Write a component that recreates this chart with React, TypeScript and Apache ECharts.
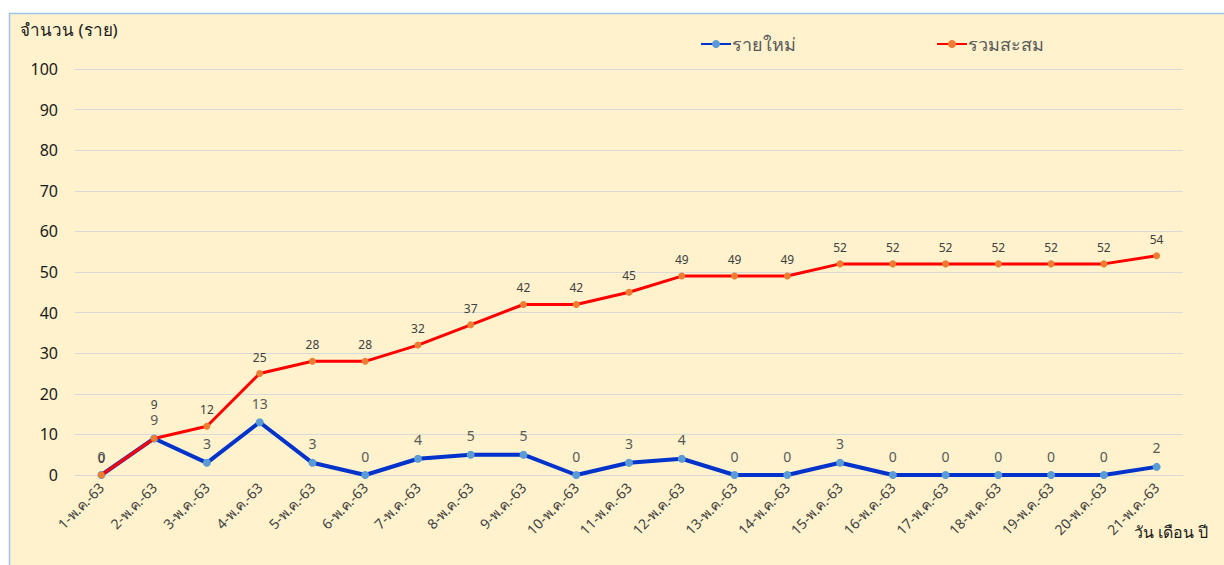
import React, { useEffect, useRef } from "react";
import * as echarts from "echarts";

const categories = [
  "1-พ.ค.-63", "2-พ.ค.-63", "3-พ.ค.-63", "4-พ.ค.-63", "5-พ.ค.-63", "6-พ.ค.-63", "7-พ.ค.-63",
  "8-พ.ค.-63", "9-พ.ค.-63", "10-พ.ค.-63", "11-พ.ค.-63", "12-พ.ค.-63", "13-พ.ค.-63", "14-พ.ค.-63",
  "15-พ.ค.-63", "16-พ.ค.-63", "17-พ.ค.-63", "18-พ.ค.-63", "19-พ.ค.-63", "20-พ.ค.-63", "21-พ.ค.-63",
];
const newCases = [0, 9, 3, 13, 3, 0, 4, 5, 5, 0, 3, 4, 0, 0, 3, 0, 0, 0, 0, 0, 2];
const cumulative = [0, 9, 12, 25, 28, 28, 32, 37, 42, 42, 45, 49, 49, 49, 52, 52, 52, 52, 52, 52, 54];
const seriesNames = ["รายใหม่", "รวมสะสม"];
const yTitle = "จำนวน (ราย)";
const xTitle = "วัน เดือน ปี";

const FONT = "'Noto Sans', 'DejaVu Sans', sans-serif";

export default function App() {
  const ref = useRef<HTMLDivElement>(null);
  useEffect(() => {
    if (!ref.current) return;
    const chart = echarts.init(ref.current, null, { renderer: "svg" });
    chart.setOption({
      animation: false,
      backgroundColor: "#FFFFFF",
      textStyle: { fontFamily: FONT },
      graphic: [
        {
          type: "rect",
          shape: { x: 9.5, y: 13.5, width: 1230, height: 570 },
          style: { fill: "#FFF2CC", stroke: "#9DC3E6", lineWidth: 1.5 },
          z: -10,
        },
        {
          type: "text",
          left: 20,
          top: 21,
          style: { text: yTitle, fontSize: 17, fill: "#1a1a1a", fontFamily: FONT },
        },
        {
          type: "text",
          left: 1134,
          top: 524,
          style: { text: xTitle, fontSize: 16, fill: "#1a1a1a", fontFamily: FONT },
        },
      ],
      legend: {
        top: 30,
        left: 695,
        itemGap: 140,
        itemWidth: 30,
        itemHeight: 10,
        textStyle: { fontSize: 18, color: "#595959", fontFamily: FONT, padding: [0, 0, 0, -4] },
        data: seriesNames,
      },
      grid: { left: 75, right: 41, top: 69, bottom: 90, containLabel: false },
      xAxis: {
        type: "category",
        data: categories,
        boundaryGap: true,
        axisLine: { show: true, lineStyle: { color: "#D9D9D9" } },
        axisTick: { show: false },
        axisLabel: {
          rotate: 45,
          interval: 0,
          margin: 10,
          fontSize: 14,
          color: "#404040",
          fontFamily: FONT,
        },
      },
      yAxis: {
        type: "value",
        min: 0,
        max: 100,
        interval: 10,
        axisLine: { show: false },
        axisTick: { show: false },
        splitLine: { lineStyle: { color: "#D9D9D9" } },
        axisLabel: { fontSize: 16, color: "#1a1a1a", margin: 17, fontFamily: FONT },
      },
      series: [
        {
          name: seriesNames[0],
          type: "line",
          data: newCases,
          symbol: "circle",
          symbolSize: 8,
          itemStyle: { color: "#5B9BD5" },
          lineStyle: { color: "#0033CC", width: 4 },
          label: { show: true, position: "top", distance: 8, fontSize: 14, color: "#595959", fontFamily: FONT },
          z: 2,
        },
        {
          name: seriesNames[1],
          type: "line",
          data: cumulative.map((v, i) =>
            i === 1
              ? { value: v, label: { distance: 24 } }
              : v
          ),
          symbol: "circle",
          symbolSize: 7,
          itemStyle: { color: "#ED7D31" },
          lineStyle: { color: "#FF0000", width: 3 },
          label: { show: true, position: "top", distance: 7, fontSize: 12, color: "#404040", fontFamily: FONT },
          z: 3,
        },
      ],
    });
    return () => chart.dispose();
  }, []);
  return (
    <div
      ref={ref}
      style={{ position: "fixed", left: 0, top: 0, width: 1224, height: 565 }}
    />
  );
}
